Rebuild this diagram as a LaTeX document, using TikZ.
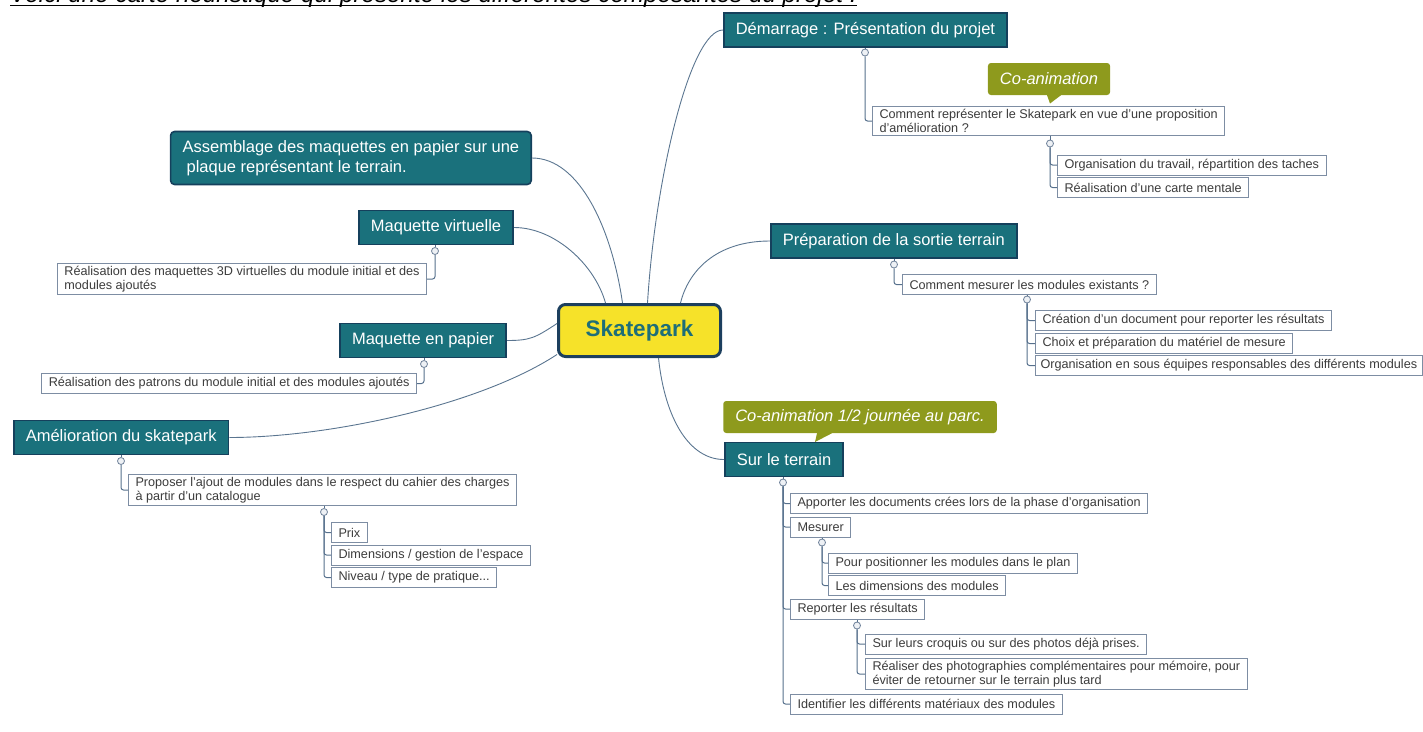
\documentclass[tikz,border=0pt]{standalone}
\usepackage{fontspec}
\setmainfont{Liberation Sans}
\usetikzlibrary{calc}
\definecolor{topicfill}{HTML}{1A717C}
\definecolor{topicborder}{HTML}{15405C}
\definecolor{skyellow}{HTML}{F6E229}
\definecolor{skborder}{HTML}{1C3F5E}
\definecolor{sktext}{HTML}{1E6E78}
\definecolor{olivec}{HTML}{8E9A1D}
\definecolor{boxborder}{HTML}{7D8DA3}
\definecolor{boxtext}{HTML}{3C3C3C}
\definecolor{linecol}{HTML}{56708C}
\definecolor{branchcol}{HTML}{5A7590}
\definecolor{knobcol}{HTML}{6F829A}
\definecolor{knobfill}{HTML}{EEF1F5}
\begin{document}
\begin{tikzpicture}[x=1pt,y=-1pt,
  topic/.style={draw=topicborder, line width=1.6pt, fill=topicfill, text=white,
    font=\fontsize{16.5}{19.5}\selectfont, inner xsep=12pt, minimum height=34pt, align=left},
  sub/.style={draw=boxborder, line width=1pt, fill=white, text=boxtext,
    font=\fontsize{12.65}{14}\selectfont, inner xsep=7pt, inner ysep=2.5pt, minimum height=20pt, align=left},
  knob/.style={circle, draw=knobcol, fill=knobfill, line width=0.8pt, minimum size=7pt, inner sep=0pt},
  tree/.style={draw=linecol, line width=1pt, rounded corners=2.5pt},
  branch/.style={draw=branchcol, line width=0.9pt},
  callout/.style={fill=olivec, rounded corners=3pt, text=white,
    font=\fontsize{16.5}{19}\selectfont\itshape, inner xsep=12pt, minimum height=32pt},
]
\useasboundingbox (0,0) rectangle (1423,731);
\clip (0,0) rectangle (1423,731);

% partially visible title
\node[anchor=base west, inner sep=0pt, font=\fontsize{24.2}{27}\selectfont\itshape] (title) at (10,2.2)
  {Voici une carte heuristique qui présente les différentes composantes du projet :};
\draw[line width=1.6pt] ([yshift=-3.4pt]title.base west) -- ([yshift=-3.4pt]title.base east);

% central node
\node[draw=skborder, line width=3pt, fill=skyellow, rounded corners=7pt, text=sktext,
  font=\fontsize{22.5}{26}\selectfont\bfseries, minimum width=162pt, minimum height=52pt] (sk) at (639.5,330.5) {Skatepark};

% main topics
\node[topic, anchor=west] (dem) at (723,30) {Démarrage : Présentation du projet};
\node[topic, anchor=east, rounded corners=4pt, minimum height=53pt] (ass) at (532,158)
  {Assemblage des maquettes en papier sur une\\\hspace{4pt}plaque représentant le terrain.};
\node[topic, anchor=east] (mv) at (514,227.5) {Maquette virtuelle};
\node[topic, anchor=east] (mp) at (507,340.5) {Maquette en papier};
\node[topic, anchor=west] (am) at (13,437.5) {Amélioration du skatepark};
\node[topic, anchor=west] (prep) at (770,241) {Préparation de la sortie terrain};
\node[topic, anchor=west] (sur) at (724,459.5) {Sur le terrain};

% branches from the centre
\draw[branch] ([xshift=8pt]sk.north) .. controls (655,180) and (690,30) .. (dem.west);
\draw[branch] ([xshift=41pt]sk.north) .. controls (688,272) and (715,241) .. (prep.west);
\draw[branch] ([xshift=19pt]sk.south) .. controls (665,420) and (690,459.5) .. (sur.west);
\draw[branch] ([xshift=-17pt]sk.north) .. controls (612,230) and (580,158) .. (ass.east);
\draw[branch] ([xshift=-34pt]sk.north) .. controls (595,265) and (555,227.5) .. (mv.east);
\draw[branch] ([yshift=7pt]sk.west) .. controls (535,338) and (530,340.5) .. (mp.east);
\draw[branch] ([yshift=-24pt]sk.west) .. controls (480,405) and (330,437.5) .. (am.east);

% callouts
\node[callout] (ca1) at (1049,79) {Co-animation};
\fill[olivec] ([xshift=-2pt]ca1.south) -- (1050,103.5) -- ([xshift=12pt]ca1.south) -- cycle;
\node[callout] (ca2) at (860,417) {Co-animation 1/2 journée au parc.};
\fill[olivec] ([xshift=-43pt]ca2.south) -- (815,442) -- ([xshift=-28pt]ca2.south) -- cycle;

% ---- Démarrage subtree
\node[knob] (k1) at (865,52.5) {};
\node[sub, anchor=west] (cr) at (872,121)
  {Comment représenter le Skatepark en vue d'une proposition\\d'amélioration ?};
\node[knob] (k2) at (1050,143.5) {};
\node[sub, anchor=west] (org) at (1057,165) {Organisation du travail, répartition des taches};
\node[sub, anchor=west] (carte) at (1057,187.5) {Réalisation d'une carte mentale};
\draw[tree] (dem.south -| k1) -- (k1.north);
\draw[tree] (k1.south) |- (cr.west);
\draw[tree] (cr.south -| k2) -- (k2.north);
\draw[tree] (k2.south) |- (org.west);
\draw[tree] (k2.south) |- (carte.west);

% ---- Préparation subtree
\node[knob] (k3) at (894,264.5) {};
\node[sub, anchor=west] (cm) at (902,284.5) {Comment mesurer les modules existants ?};
\node[knob] (k4) at (1027,299.5) {};
\node[sub, anchor=west] (crea) at (1035,320.5) {Création d'un document pour reporter les résultats};
\node[sub, anchor=west] (choix) at (1035,343.5) {Choix et préparation du matériel de mesure};
\node[sub, anchor=west, inner xsep=5pt] (orgs) at (1035,365.5) {Organisation en sous équipes responsables des différents modules};
\draw[tree] (prep.south -| k3) -- (k3.north);
\draw[tree] (k3.south) |- (cm.west);
\draw[tree] (cm.south -| k4) -- (k4.north);
\draw[tree] (k4.south) |- (crea.west);
\draw[tree] (k4.south) |- (choix.west);
\draw[tree] (k4.south) |- (orgs.west);

% ---- Sur le terrain subtree
\node[knob] (k5) at (783,482.5) {};
\node[sub, anchor=west] (app) at (790,503.5) {Apporter les documents crées lors de la phase d'organisation};
\node[sub, anchor=west] (mes) at (790,527) {Mesurer};
\node[knob] (k6) at (822,542.5) {};
\node[sub, anchor=west] (pos) at (828,563) {Pour positionner les modules dans le plan};
\node[sub, anchor=west] (dim) at (828,585.5) {Les dimensions des modules};
\node[sub, anchor=west] (rep) at (790,609) {Reporter les résultats};
\node[knob] (k7) at (857,625.5) {};
\node[sub, anchor=west] (croq) at (865,644) {Sur leurs croquis ou sur des photos déjà prises.};
\node[sub, anchor=west] (photo) at (865,674)
  {Réaliser des photographies complémentaires pour mémoire, pour\\éviter de retourner sur le terrain plus tard};
\node[sub, anchor=west] (ident) at (790,704) {Identifier les différents matériaux des modules};
\draw[tree] (sur.south -| k5) -- (k5.north);
\draw[tree] (k5.south) |- (app.west);
\draw[tree] (k5.south) |- (mes.west);
\draw[tree] (k5.south) |- (rep.west);
\draw[tree] (k5.south) |- (ident.west);
\draw[tree] (mes.south -| k6) -- (k6.north);
\draw[tree] (k6.south) |- (pos.west);
\draw[tree] (k6.south) |- (dim.west);
\draw[tree] (rep.south -| k7) -- (k7.north);
\draw[tree] (k7.south) |- (croq.west);
\draw[tree] (k7.south) |- (photo.west);

% ---- left side
\node[knob] (k8) at (435,251) {};
\node[sub, anchor=east] (rmv) at (427,279)
  {Réalisation des maquettes 3D virtuelles du module initial et des\\modules ajoutés};
\draw[tree] (mv.south -| k8) -- (k8.north);
\draw[tree] (k8.south) |- (rmv.east);

\node[knob] (k9) at (424,364) {};
\node[sub, anchor=east] (rmp) at (417,383.5) {Réalisation des patrons du module initial et des modules ajoutés};
\draw[tree] (mp.south -| k9) -- (k9.north);
\draw[tree] (k9.south) |- (rmp.east);

\node[knob] (k10) at (121,461) {};
\node[sub, anchor=west] (prop) at (128,490)
  {Proposer l'ajout de modules dans le respect du cahier des charges\\à partir d'un catalogue};
\node[knob] (k11) at (324,512) {};
\node[sub, anchor=west] (prix) at (331,532.5) {Prix};
\node[sub, anchor=west] (desp) at (331,555) {Dimensions / gestion de l'espace};
\node[sub, anchor=west] (niv) at (331,577.5) {Niveau / type de pratique...};
\draw[tree] (am.south -| k10) -- (k10.north);
\draw[tree] (k10.south) |- (prop.west);
\draw[tree] (prop.south -| k11) -- (k11.north);
\draw[tree] (k11.south) |- (prix.west);
\draw[tree] (k11.south) |- (desp.west);
\draw[tree] (k11.south) |- (niv.west);
\end{tikzpicture}
\end{document}
